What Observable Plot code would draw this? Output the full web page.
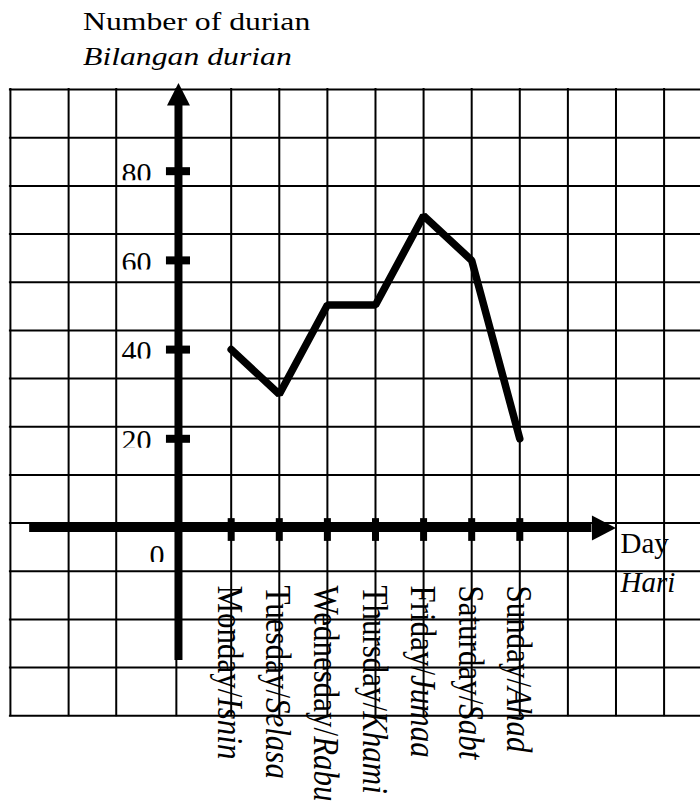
<!DOCTYPE html>
<html>
<head>
<meta charset="utf-8">
<script src="https://cdn.jsdelivr.net/npm/d3@7"></script>
<script src="https://cdn.jsdelivr.net/npm/@observablehq/plot@0.6"></script>
<style>
  body { margin: 0; background: #fff; }
  #hdr { position: relative; height: 78px; width: 700px; font-family: "Liberation Serif", "Times New Roman", serif; font-size: 26px; line-height: 26px; color: #000; }
  #hdr div { position: absolute; left: 83px; transform: scaleX(1.22); transform-origin: 0 0; white-space: nowrap; }
  #chart svg { display: block; }
</style>
</head>
<body>
<div id="hdr">
  <div style="top:9px">Number of durian</div>
  <div style="top:44px;font-style:italic">Bilangan durian</div>
</div>
<div id="chart"></div>
<script>
// ---- data ----
const days = ["Monday/Isnin", "Tuesday/Selasa", "Wednesday/Rabu", "Thursday/Khami", "Friday/Jumaa", "Saturday/Sabt", "Sunday/Ahad"];
const dayIndex = [1, 2, 3, 4, 5, 6, 7];
const durian = [40, 30, 50, 50, 70, 60, 20];
const yTicks = [20, 40, 60, 80];
const zeroLabel = ["0"];
const axisTitleX = ["Day"];
const axisTitleXItalic = ["Hari"];
// grid lines of the squared paper (in chart units)
const gridX = [-3.59, -2.38, -1.39, -0.14, 1, 2, 3, 4, 5, 6, 7, 8, 9, 10];
const gridY = [98.3, 87.5, 76.7, 65.9, 55.1, 44.3, 33.5, 22.7, 11.9, 1.1, -9.7, -20.5, -31.3, -42.1];

const table = dayIndex.map((d, i) => ({day: d, label: days[i], value: durian[i]}));

// ---- layout in chart units ----
const xDomain = [-3.796, 10.757];
const yDomain = [-62.44, 100.78];
const yAxisAt = -0.096;
const yAxisBottom = -29.7;
const yAxisTop = 94.7;
const xAxisLeft = -3.19;
const xAxisEnd = 8.5;

const font = "Liberation Serif, Times New Roman, serif";

const triUp = {draw(ctx) { ctx.moveTo(-11.5, 0); ctx.lineTo(11.5, 0); ctx.lineTo(0, -22.5); ctx.closePath(); }};
const triRight = {draw(ctx) { ctx.moveTo(0, -12.5); ctx.lineTo(0, 12.5); ctx.lineTo(24, 0); ctx.closePath(); }};

const svg = Plot.plot({
  width: 700,
  height: 728,
  margin: 0,
  x: {domain: xDomain, axis: null},
  y: {domain: yDomain, axis: null},
  style: {background: "white", color: "black"},
  marks: [
    // y tick labels (bottoms clipped as in the original)
    Plot.text(yTicks, {x: () => yAxisAt, y: d => d, text: d => String(d), dx: -27, dy: 2, textAnchor: "end", fontSize: 30, fontFamily: font, fill: "black"}),
    Plot.ruleY(yTicks, {y: d => d, x1: () => yAxisAt - 1.3, x2: () => yAxisAt - 0.5, dy: 12, stroke: "white", strokeWidth: 6}),
    Plot.text(zeroLabel, {x: () => yAxisAt, y: () => 0, text: d => d, dx: -14, dy: 27, textAnchor: "end", fontSize: 30, fontFamily: font, fill: "black"}),
    Plot.ruleY([0], {y: d => d, x1: () => yAxisAt - 0.75, x2: () => yAxisAt - 0.15, dy: 37, stroke: "white", strokeWidth: 6}),
    // day labels (rotated)
    Plot.text(table, {x: "day", y: () => 0, text: "label", rotate: 90, textAnchor: "start", lineAnchor: "middle", dx: -1.5, dy: 57.5, fontSize: 31, fontFamily: font, fill: "black"}),
    // axis title
    Plot.text(axisTitleX, {x: () => xAxisEnd, y: () => 0, text: d => d, dx: 28.5, dy: 4, textAnchor: "start", lineAnchor: "top", fontSize: 29, fontFamily: font, fill: "black"}),
    Plot.text(axisTitleXItalic, {x: () => xAxisEnd, y: () => 0, text: d => d, dx: 28.5, dy: 43, textAnchor: "start", lineAnchor: "top", fontSize: 29, fontStyle: "italic", fontFamily: font, fill: "black"}),
    // squared paper grid
    Plot.ruleX(gridX, {x: d => d, y1: () => gridY[gridY.length - 1], y2: () => gridY[0], stroke: "black", strokeWidth: 2, strokeLinecap: "square"}),
    Plot.ruleY(gridY, {y: d => d, x1: () => gridX[0], x2: () => xDomain[1], stroke: "black", strokeWidth: 2, strokeLinecap: "square"}),
    // axes
    Plot.ruleY([0], {y: d => d, x1: () => xAxisLeft, x2: () => xAxisEnd, stroke: "black", strokeWidth: 8}),
    Plot.ruleX([yAxisAt], {x: d => d, y1: () => yAxisBottom, y2: () => yAxisTop, stroke: "black", strokeWidth: 8}),
    Plot.dot([0], {x: () => xAxisEnd, y: () => 0, symbol: triRight, fill: "black", stroke: "none"}),
    Plot.dot([0], {x: () => yAxisAt, y: () => yAxisTop, symbol: triUp, fill: "black", stroke: "none"}),
    // ticks
    Plot.ruleY(yTicks, {y: d => d, x1: () => yAxisAt - 0.25, x2: () => yAxisAt + 0.25, stroke: "black", strokeWidth: 8}),
    Plot.ruleX(dayIndex, {x: d => d, y1: () => -3.0, y2: () => 2.1, stroke: "black", strokeWidth: 7}),
    // data
    Plot.line(table, {x: "day", y: "value", stroke: "black", strokeWidth: 7.5, strokeLinejoin: "miter"})
  ]
});

// mixed styles: English name upright, Malay name italic; slightly widened glyphs as in the original
d3.select(svg).selectAll("text").each(function () {
  const t = this.textContent;
  if (t.includes("/")) {
    const [a, b] = t.split("/");
    const s = d3.select(this);
    s.text(null);
    s.append("tspan").text(a + "/");
    s.append("tspan").attr("font-style", "italic").text(b);
    const tr = s.attr("transform") || "";
    s.attr("transform", tr + " scale(1,1.15)");
  }
});

document.getElementById("chart").appendChild(svg);
</script>
</body>
</html>
